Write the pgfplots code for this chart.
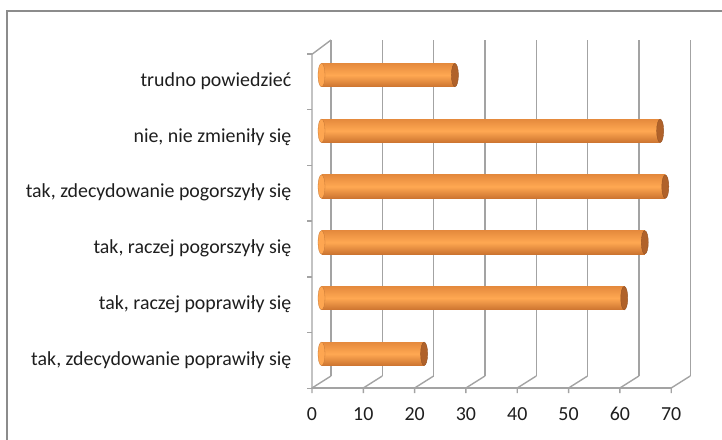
\documentclass[border=0pt]{standalone}
\usepackage{pgfplots}
\pgfplotsset{compat=1.18}
\usepackage{fontspec}
\setmainfont{Carlito}
\usetikzlibrary{calc}
\definecolor{gridc}{HTML}{A3A3A3}
\definecolor{framec}{HTML}{8C8C8C}
\definecolor{barmid}{HTML}{FFA852}
\definecolor{bartop}{HTML}{E58A3D}
\definecolor{barbot}{HTML}{CC7430}
\definecolor{capc}{HTML}{B0622A}
\definecolor{txt}{HTML}{1E1E1E}
\begin{document}
\begin{tikzpicture}
\useasboundingbox (0,0) rectangle (722pt,-439pt);
\draw[line width=1.5pt, framec] (7pt,-445pt) -- (7pt,-11pt) -- (730pt,-11pt);
\begin{axis}[
  at={(321.5pt,-381.7pt)}, anchor=south west,
  scale only axis, width=359.2pt, height=334.5pt,
  xmin=0, xmax=70, ymin=-0.5, ymax=5.5,
  axis line style={draw=none},
  major tick length=0pt,
  xtick={0,10,20,30,40,50,60,70},
  ytick={0,1,2,3,4,5},
  yticklabels={{tak, zdecydowanie poprawiły się},{tak, raczej poprawiły się},{tak, raczej pogorszyły się},{tak, zdecydowanie pogorszyły się},{nie, nie zmieniły się},{trudno powiedzieć}},
  tick label style={font=\fontsize{19.9}{23}\selectfont, text=txt},
  xticklabel style={anchor=center, xshift=-9.5pt, yshift=-32.3pt},
  yticklabel style={anchor=east, inner sep=0pt, xshift=-30pt, yshift=-6pt},
  /pgf/number format/assume math mode=true,
  clip=false,
  cylbar/.style={xbar, bar shift=0pt, bar width=23.4pt, draw=none, top color=bartop, bottom color=barbot, middle color=barmid},
]
% back wall grid lines and floor diagonals
\pgfplotsinvokeforeach{0,10,20,30,40,50,60,70}{
  \draw[gridc, line width=1.4pt] ($(axis cs:#1,-0.5)+(9.5pt,5.7pt)$) -- ($(axis cs:#1,5.5)+(9.5pt,7.2pt)$);
  \draw[gridc, line width=1.4pt] ($(axis cs:#1,-0.5)+(9.5pt,5.7pt)$) -- ($(axis cs:#1,-0.5)+(-9.5pt,-6.3pt)$) -- ++(0pt,-5pt);
}
% floor front edge
\draw[gridc, line width=1.4pt] ($(axis cs:0,-0.5)+(-9.5pt,-6.3pt)$) -- ($(axis cs:70,-0.5)+(-9.5pt,-6.3pt)$);
% left wall
\draw[gridc, line width=1.4pt] ($(axis cs:0,-0.5)+(-9.5pt,-6.3pt)$) -- ($(axis cs:0,5.5)+(-9.5pt,-7.1pt)$) -- ($(axis cs:0,5.5)+(9.5pt,7.2pt)$);
\pgfplotsinvokeforeach{-0.5,0.5,1.5,2.5,3.5,4.5,5.5}{
  \draw[gridc, line width=1.4pt] ($(axis cs:0,#1)+(-9.5pt,-6.7pt)$) -- ++(-5pt,0pt);
}
% left caps of cylinders
\addplot[only marks, mark=*, mark size=11.7pt, mark options={xscale=0.3, fill=barmid!95!bartop, draw=bartop!85!black, line width=0.3pt}]
  coordinates {(0,0)(0,1)(0,2)(0,3)(0,4)(0,5)};
% cylinder bodies (one plot each so every bar gets its own shading)
\addplot[cylbar] coordinates {(20,0)};
\addplot[cylbar] coordinates {(59,1)};
\addplot[cylbar] coordinates {(63,2)};
\addplot[cylbar] coordinates {(67,3)};
\addplot[cylbar] coordinates {(66,4)};
\addplot[cylbar] coordinates {(26,5)};
% right caps
\addplot[only marks, mark=*, mark size=11.7pt, mark options={xscale=0.3, fill=capc, draw=capc!85!black, line width=0.4pt}]
  coordinates {(20,0)(59,1)(63,2)(67,3)(66,4)(26,5)};
\end{axis}
\end{tikzpicture}
\end{document}
